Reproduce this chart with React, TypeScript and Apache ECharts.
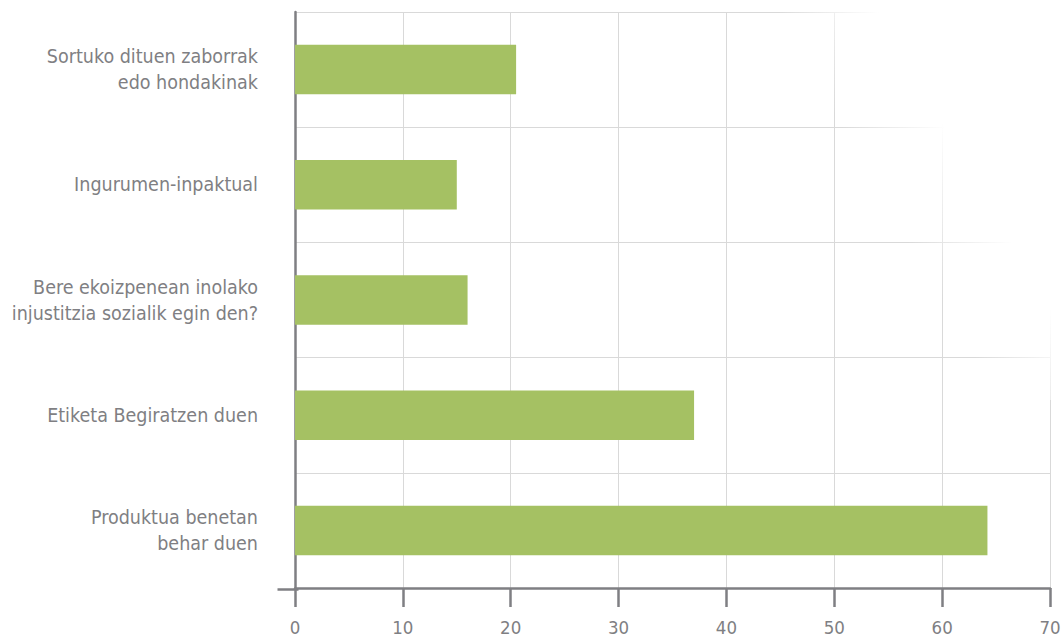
import React, { useEffect, useRef } from "react";
import * as echarts from "echarts";

// top-to-bottom order as shown in the chart
const categories = [
  "Sortuko dituen zaborrak\nedo hondakinak",
  "Ingurumen-inpaktual",
  "Bere ekoizpenean inolako\ninjustitzia sozialik egin den?",
  "Etiketa Begiratzen duen",
  "Produktua benetan\nbehar duen",
];
const values = [20.5, 15, 16, 37, 64.2];
const xMin = 0;
const xMax = 70;
const xInterval = 10;

const FONT = "'DejaVu Sans Condensed', 'DejaVu Sans', sans-serif";
const AXIS = "#7f7f83";
const TEXT = "#7f7f83";

export default function App() {
  const ref = useRef<HTMLDivElement>(null);
  useEffect(() => {
    if (!ref.current) return;
    const chart = echarts.init(ref.current, undefined, { renderer: "svg" });
    const catsBottomUp = [...categories].reverse();
    const valsBottomUp = [...values].reverse();
    chart.setOption({
      animation: false,
      grid: { left: 295, right: 13, top: 12, bottom: 49, outerBoundsMode: "none" },
      xAxis: {
        type: "value",
        min: xMin,
        max: xMax,
        interval: xInterval,
        axisLine: { show: true, lineStyle: { color: AXIS, width: 2.5 } },
        axisTick: { show: true, length: 19, lineStyle: { color: AXIS, width: 2.5 } },
        axisLabel: { color: TEXT, fontFamily: FONT, fontSize: 18.5, margin: 30 },
        splitLine: { show: true, lineStyle: { color: "#d9d9d9", width: 1 } },
      },
      yAxis: {
        type: "category",
        data: catsBottomUp,
        axisLine: { show: true, lineStyle: { color: AXIS, width: 2.5 } },
        axisTick: { show: false },
        axisLabel: {
          color: TEXT,
          fontFamily: FONT,
          fontSize: 19.5,
          lineHeight: 26,
          margin: 37,
          align: "right",
        },
        splitLine: { show: true, lineStyle: { color: "#d9d9d9", width: 1 } },
      },
      series: [
        {
          type: "bar",
          data: valsBottomUp,
          barWidth: "43%",
          itemStyle: { color: "#a5c163" },
          z: 3,
        },
      ],
      graphic: [
        {
          type: "line",
          left: 275,
          top: 587,
          shape: { x1: 0, y1: 1, x2: 21, y2: 1 },
          style: { stroke: AXIS, lineWidth: 2.5 },
          z: 5,
          silent: true,
        },
        {
          type: "rect",
          left: 780,
          top: 0,
          shape: { x: 0, y: 0, width: 283, height: 400 },
          style: {
            fill: new echarts.graphic.LinearGradient(0.12, 0.2, 0.34, 0.02, [
              { offset: 0, color: "rgba(255,255,255,0)" },
              { offset: 1, color: "rgba(255,255,255,1)" },
            ]),
          },
          z: 1,
          silent: true,
        },
      ],
    });
    return () => chart.dispose();
  }, []);
  return <div ref={ref} style={{ width: 1063, height: 637, position: "absolute", left: 0, top: 0 }} />;
}
